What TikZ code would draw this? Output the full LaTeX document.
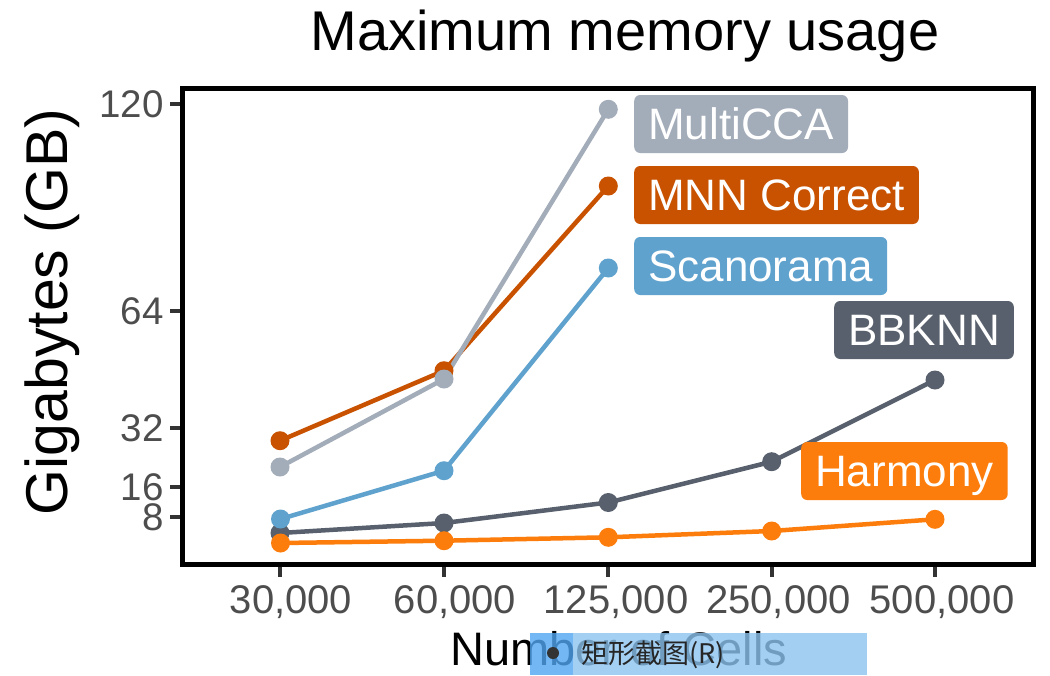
\documentclass[tikz,border=0pt]{standalone}
\usepackage{fontspec}
\setmainfont{Liberation Sans}
\newfontfamily\cjkfont{Noto Sans CJK SC}
\definecolor{cMulti}{HTML}{A3ACB9}
\definecolor{cMNN}{HTML}{C85200}
\definecolor{cScan}{HTML}{5FA2CE}
\definecolor{cBB}{HTML}{57606C}
\definecolor{cHar}{HTML}{FC7D0B}
\definecolor{tickgray}{HTML}{333333}
\definecolor{labgray}{HTML}{4D4D4D}
\definecolor{ovlight}{RGB}{140,195,240}
\definecolor{ovdark}{RGB}{80,165,242}
\tikzset{
  dot/.style={circle, fill=#1, draw=none, inner sep=0pt, minimum size=19pt},
  series/.style={line width=4.5pt, draw=#1, line join=round},
  lbl/.style={fill=#1, text=white, rounded corners=6pt, inner xsep=14pt, inner ysep=0pt,
              minimum height=58pt, text height=31.5pt, text depth=0pt, anchor=west,
              font=\fontsize{44}{44}\selectfont},
  ytk/.style={draw=tickgray, line width=4pt},
  ytl/.style={anchor=east, text=labgray, inner sep=0pt, font=\fontsize{38.5}{38.5}\selectfont},
  xtl/.style={anchor=base, text=labgray, inner sep=0pt, font=\fontsize{40}{40}\selectfont},
}
\begin{document}
\begin{tikzpicture}[x=1pt,y=-1pt]
\useasboundingbox (0,0) rectangle (1050,675);
\fill[white] (0,0) rectangle (1050,675);

% title
\node[anchor=base, inner sep=0pt, font=\fontsize{56}{56}\selectfont] (title) at (625,50) {Maximum memory usage};

% y axis title
\node[rotate=90, anchor=base, inner sep=0pt, font=\fontsize{59}{59}\selectfont] (ytitle) at (67,312) {Gigabytes (GB)};

% y ticks
\foreach \v/\y/\n in {120/104/a,64/311/b,32/428/c,16/487/d,8/517/e}{
  \coordinate (yt\n) at (181,\y);
  \coordinate (ys\n) at (170,\y);
  \draw[ytk] (ys\n) -- (yt\n);
  \node[ytl] (yl\n) at (164,\y) {\v};
}
% x ticks
\foreach \v/\x/\o/\n in {30{,}000/280/11/a,60{,}000/444/11/b,125{,}000/608/8/c,250{,}000/771.5/7/d,500{,}000/935/7/e}{
  \coordinate (xt\n) at (\x,566);
  \coordinate (xs\n) at (\x,577);
  \draw[ytk] (xt\n) -- (xs\n);
  \node[xtl] (xl\n) at ([xshift=\o pt]xs\n |- 0,613) {\v};
}

% data coordinates
\coordinate (b1) at (280,533);   \coordinate (b2) at (444,523);   \coordinate (b3) at (608.3,502.5);
\coordinate (b4) at (771.7,461.7); \coordinate (b5) at (935,380);
\coordinate (h1) at (280.5,543); \coordinate (h2) at (444,540.7); \coordinate (h3) at (608.3,537.3);
\coordinate (h4) at (771.7,531); \coordinate (h5) at (935,519.3);
\coordinate (m1) at (280,440.7); \coordinate (m2) at (444,370.7); \coordinate (m3) at (608.3,186);
\coordinate (c1) at (280,467);   \coordinate (c2) at (444,379);   \coordinate (c3) at (608.3,109.3);
\coordinate (s1) at (280.5,519); \coordinate (s2) at (444,470.7); \coordinate (s3) at (608.3,268);

% lines
\draw[series=cBB] (b1) -- (b2) -- (b3) -- (b4) -- (b5);
\draw[series=cHar] (h1) -- (h2) -- (h3) -- (h4) -- (h5);
\draw[series=cMNN] (m1) -- (m2) -- (m3);
\draw[series=cMulti] (c1) -- (c2) -- (c3);
\draw[series=cScan] (s1) -- (s2) -- (s3);

% points
\foreach \p in {b1,b2,b3,b4,b5}{\node[dot=cBB] (d\p) at (\p) {};}
\foreach \p in {h1,h2,h3,h4,h5}{\node[dot=cHar] (d\p) at (\p) {};}
\foreach \p in {m1,m2,m3}{\node[dot=cMNN] (d\p) at (\p) {};}
\foreach \p in {c1,c2,c3}{\node[dot=cMulti] (d\p) at (\p) {};}
\foreach \p in {s1,s2,s3}{\node[dot=cScan] (d\p) at (\p) {};}

% labels
\node[lbl=cMulti] (lMulti) at (634,124) {MultiCCA};
\node[lbl=cMNN] (lMNN) at (634,195) {MNN Correct};
\node[lbl=cScan] (lScan) at (634,266) {Scanorama};
\node[lbl=cBB] (lBB) at (834,330) {BBKNN};
\node[lbl=cHar] (lHar) at (801,471) {Harmony};

% panel frame
\draw[line width=5pt, line join=miter] (182.5,88) rectangle (1033,564);

% x axis title
\node[anchor=base west, inner sep=0pt, font=\fontsize{47}{47}\selectfont] (xtitle) at (450,665) {Number of Cells};

% screenshot overlay
\fill[ovlight, opacity=0.8] (573,633) rectangle (867,675);
\fill[ovdark, opacity=0.8] (530,633) rectangle (573,675);
\node[circle, fill=tickgray, inner sep=0pt, minimum size=12pt] (ovdot) at (553,653) {};
\node[anchor=west, inner sep=0pt, text=black!85, font=\cjkfont\fontsize{27}{27}\selectfont] (ovtext) at (581,655) {矩形截图(R)};
\end{tikzpicture}
\end{document}
